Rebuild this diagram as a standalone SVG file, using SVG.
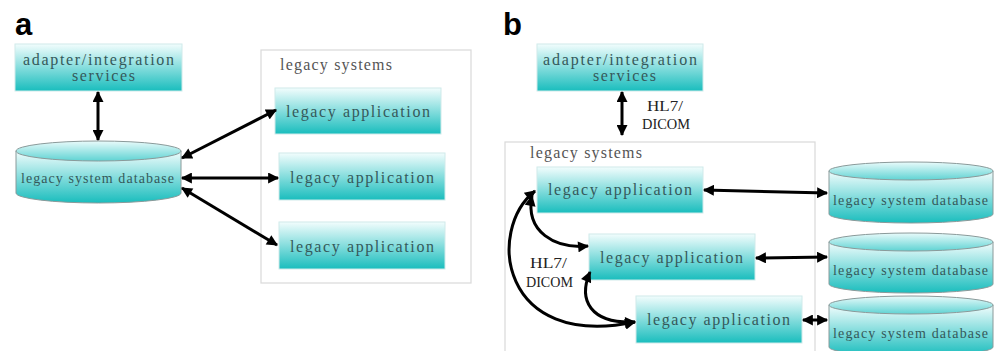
<svg xmlns="http://www.w3.org/2000/svg" width="995" height="351" viewBox="0 0 995 351">
  <defs>
    <linearGradient id="teal" x1="0" y1="0" x2="0" y2="1">
      <stop offset="0" stop-color="#f2fdfd"/>
      <stop offset="1" stop-color="#19bdbd"/>
    </linearGradient>
    <linearGradient id="lid" x1="0" y1="0" x2="0" y2="1">
      <stop offset="0" stop-color="#e9fbfb"/>
      <stop offset="1" stop-color="#5fd3d3"/>
    </linearGradient>
    <marker id="head" viewBox="0 0 10 10" markerUnits="userSpaceOnUse" markerWidth="13" markerHeight="11" refX="9" refY="5" orient="auto-start-reverse">
      <path d="M0,0 L10,5 L0,10 z" fill="#000"/>
    </marker>
    <style>
      .box { fill: url(#teal); stroke: #cfeaea; stroke-width: 1; }
      .body { fill: url(#teal); stroke: #8a9a9a; stroke-width: 1; }
      .lid { fill: url(#lid); stroke: #8a9a9a; stroke-width: 1; }
      .frame { fill: #fff; stroke: #d9d9d9; stroke-width: 1.2; }
      .t { font-family: "Liberation Serif", serif; font-size: 16px; fill: #35595a; }
      .db { font-family: "Liberation Serif", serif; font-size: 14px; fill: #35595a; }
      .grey { font-family: "Liberation Serif", serif; font-size: 16px; fill: #555; }
      .lbl { font-family: "Liberation Serif", serif; font-size: 15px; fill: #222; }
      .panel { font-family: "Liberation Sans", sans-serif; font-size: 31px; font-weight: bold; fill: #000; }
      .arrow { fill: none; stroke: #000; stroke-width: 3; marker-start: url(#head); marker-end: url(#head); }
    </style>
  </defs>
  <rect width="995" height="351" fill="#fff"/>

  <!-- panel a -->
  <text class="panel" x="15" y="35">a</text>
  <g id="a-legacy-systems">
    <rect class="frame" x="261" y="50" width="210" height="233"/>
    <text class="grey" x="280" y="70" textLength="112" lengthAdjust="spacing">legacy systems</text>
  </g>
  <g id="a-adapter">
    <rect class="box" x="15" y="44" width="167" height="47"/>
    <text class="t" x="23" y="65" textLength="151" lengthAdjust="spacing">adapter/integration</text>
    <text class="t" x="72" y="81" textLength="63" lengthAdjust="spacing">services</text>
  </g>
  <g id="a-database">
    <path class="body" d="M16,151 L16,193 A82.5,10 0 0 0 181,193 L181,151 Z"/>
    <ellipse class="lid" cx="98.5" cy="151" rx="82.5" ry="10"/>
    <text class="db" x="21" y="183" textLength="153" lengthAdjust="spacing">legacy system database</text>
  </g>
  <g id="a-app1">
    <rect class="box" x="275" y="88" width="166" height="46"/>
    <text class="t" x="286" y="117" textLength="144" lengthAdjust="spacing">legacy application</text>
  </g>
  <g id="a-app2">
    <rect class="box" x="279" y="153" width="166" height="47"/>
    <text class="t" x="290" y="183" textLength="144" lengthAdjust="spacing">legacy application</text>
  </g>
  <g id="a-app3">
    <rect class="box" x="279" y="222" width="166" height="47"/>
    <text class="t" x="290" y="252" textLength="144" lengthAdjust="spacing">legacy application</text>
  </g>

  <!-- panel b -->
  <text class="panel" x="503" y="35">b</text>
  <g id="b-legacy-systems">
    <rect class="frame" x="505" y="142" width="310" height="230"/>
    <text class="grey" x="530" y="158" textLength="112" lengthAdjust="spacing">legacy systems</text>
  </g>
  <g id="b-adapter">
    <rect class="box" x="537" y="44" width="166" height="47"/>
    <text class="t" x="543" y="65" textLength="154" lengthAdjust="spacing">adapter/integration</text>
    <text class="t" x="593" y="81" textLength="63" lengthAdjust="spacing">services</text>
  </g>
  <g id="b-app1">
    <rect class="box" x="537" y="167" width="166" height="46"/>
    <text class="t" x="548" y="195" textLength="144" lengthAdjust="spacing">legacy application</text>
  </g>
  <g id="b-app2">
    <rect class="box" x="589" y="234" width="166" height="46"/>
    <text class="t" x="600" y="263" textLength="143" lengthAdjust="spacing">legacy application</text>
  </g>
  <g id="b-app3">
    <rect class="box" x="636" y="296" width="166" height="47"/>
    <text class="t" x="647" y="325" textLength="143" lengthAdjust="spacing">legacy application</text>
  </g>
  <g id="b-db1">
    <path class="body" d="M829,171 L829,214 A82,9 0 0 0 993,214 L993,171 Z"/>
    <ellipse class="lid" cx="911" cy="171" rx="82" ry="9"/>
    <text class="db" x="833" y="205" textLength="155" lengthAdjust="spacing">legacy system database</text>
  </g>
  <g id="b-db2">
    <path class="body" d="M829,242 L829,284 A82,9 0 0 0 993,284 L993,242 Z"/>
    <ellipse class="lid" cx="911" cy="242" rx="82" ry="9"/>
    <text class="db" x="833" y="275" textLength="155" lengthAdjust="spacing">legacy system database</text>
  </g>
  <g id="b-db3">
    <path class="body" d="M829,305 L829,347 A82,9 0 0 0 993,347 L993,305 Z"/>
    <ellipse class="lid" cx="911" cy="305" rx="82" ry="9"/>
    <text class="db" x="833" y="338" textLength="155" lengthAdjust="spacing">legacy system database</text>
  </g>

  <!-- connectors -->
  <g id="connectors">
    <line class="arrow" x1="98" y1="92" x2="98" y2="140"/>
    <line class="arrow" x1="182" y1="158" x2="276" y2="110"/>
    <line class="arrow" x1="182" y1="178" x2="278" y2="178"/>
    <line class="arrow" x1="182" y1="188" x2="277" y2="245"/>

    <line class="arrow" x1="622" y1="92" x2="622" y2="135"/>
    <line class="arrow" x1="704" y1="190" x2="827" y2="193"/>
    <line class="arrow" x1="756" y1="258" x2="827" y2="257"/>
    <line class="arrow" x1="803" y1="320" x2="827" y2="320"/>

    <path class="arrow" d="M535,191 C486,230 500,350 635,322"/>
    <path class="arrow" d="M532,196 C525,232 555,249 588,246"/>
    <path class="arrow" d="M590,272 C578,300 590,324 635,322"/>

    <text class="lbl" x="647" y="111" textLength="36" lengthAdjust="spacingAndGlyphs">HL7/</text>
    <text class="lbl" x="642" y="129" textLength="48" lengthAdjust="spacingAndGlyphs">DICOM</text>
    <text class="lbl" x="530" y="268" textLength="37" lengthAdjust="spacingAndGlyphs">HL7/</text>
    <text class="lbl" x="526" y="287" textLength="47" lengthAdjust="spacingAndGlyphs">DICOM</text>
  </g>
</svg>
